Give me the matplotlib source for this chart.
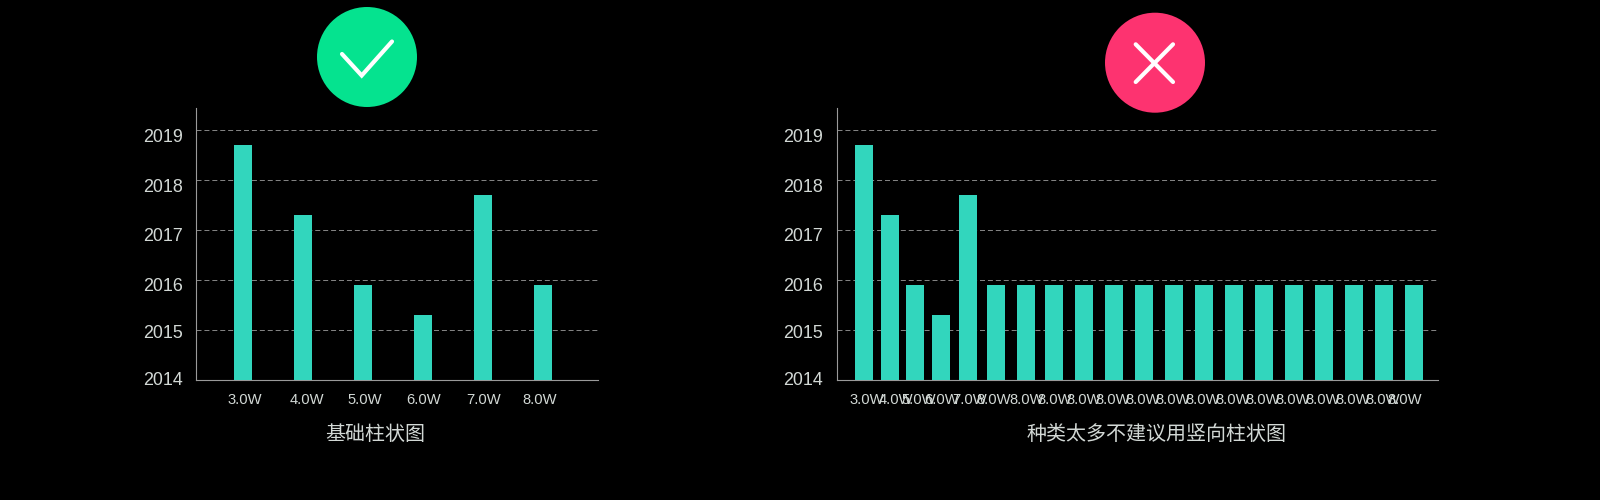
import matplotlib
matplotlib.use('Agg')
import matplotlib.pyplot as plt
from matplotlib.patches import Circle
from matplotlib.transforms import ScaledTranslation

plt.rcParams['font.family'] = ['Liberation Sans', 'Noto Sans CJK SC', 'DejaVu Sans']

W, H = 1600, 500

years = [2014, 2015, 2016, 2017, 2018, 2019]

left_labels = ['3.0W', '4.0W', '5.0W', '6.0W', '7.0W', '8.0W']
left_values = [2018.7, 2017.3, 2015.9, 2015.3, 2017.7, 2015.9]
left_title = '基础柱状图'

right_labels = ['3.0W', '4.0W', '5.0W', '6.0W', '7.0W'] + ['8.0W'] * 15
right_values = [2018.7, 2017.3, 2015.9, 2015.3, 2017.7] + [2015.9] * 15
right_title = '种类太多不建议用竖向柱状图'

# layout, in pixels from the left edge of each plot
left_bar_x = [47, 107, 167, 227, 287, 347]
left_tick_x = [49, 111, 169, 228, 288, 344]
right_bar_x = [27, 53, 78, 104, 131, 159, 189, 217, 247, 277, 307, 337, 367,
               397, 427, 457, 487, 517, 547, 577]
right_tick_x = [30, 59, 82, 105, 133, 157, 190, 218, 247, 276, 306, 336, 366,
                396, 426, 456, 486, 516, 546, 568]

# the y labels drift away from their gridlines, going up
year_shift = [1.5, -1.5, -4, -4.5, -5, -5.5]

TEAL = '#32d6bd'
AXIS = '#9a9a9a'
GRID = '#9c9c9c'
TEXT = '#d2d8d5'


def draw_panel(fig, x0, x1, bar_x, tick_x, values, labels, title, title_x):
    top, base = 108, 380.4
    ax = fig.add_axes([x0 / W, 1 - base / H, (x1 - x0) / W, (base - top) / H])
    ax.set_facecolor('black')
    ax.set_xlim(0, x1 - x0)
    ax.set_ylim(2014, 2014 + (base - top) / 50.1)
    ax.bar(bar_x, [v - 2014 for v in values], bottom=2014, width=18, color=TEAL, zorder=3)

    ax.set_yticks(years, [str(y) for y in years])
    ax.set_xticks(tick_x, labels)
    ax.tick_params(axis='both', length=0, colors=TEXT)
    ax.tick_params(axis='y', labelsize=12.9, pad=9.5)
    ax.tick_params(axis='x', labelsize=10.6, pad=8.8)
    ax.grid(axis='y', color=GRID, linewidth=0.6, dashes=(6, 3.5), zorder=1)
    ax.set_axisbelow(True)

    for label, shift in zip(ax.get_yticklabels(), year_shift):
        label.set_transform(label.get_transform() + ScaledTranslation(0, shift / 100, fig.dpi_scale_trans))

    for side in ['top', 'right']:
        ax.spines[side].set_visible(False)
    for side in ['left', 'bottom']:
        ax.spines[side].set_color(AXIS)
        ax.spines[side].set_linewidth(0.8)

    fig.text(title_x / W, 1 - 434 / H, title, color=TEXT, fontsize=14.4, ha='center', va='center')


fig = plt.figure(figsize=(W / 100, H / 100), dpi=100, facecolor='black')

draw_panel(fig, 196, 598, left_bar_x, left_tick_x, left_values, left_labels, left_title, 375.5)
draw_panel(fig, 836.5, 1438, right_bar_x, right_tick_x, right_values, right_labels, right_title, 1156.5)

# status icons above the plots
icons = fig.add_axes([0, 0, 1, 1])
icons.set_xlim(0, W)
icons.set_ylim(H, 0)
icons.axis('off')
icons.patch.set_alpha(0)
icons.add_patch(Circle((367, 57), 50, color='#05e38f', linewidth=0))
icons.add_patch(Circle((1155, 62.7), 50, color='#fd3370', linewidth=0))
icons.plot([342, 361.7, 392], [54, 75.5, 41.5], color='white', lw=3, solid_capstyle='round', solid_joinstyle='miter')
icons.plot([1135.7, 1173], [44.3, 82], color='white', lw=3, solid_capstyle='round')
icons.plot([1173, 1135.7], [44.3, 82], color='white', lw=3, solid_capstyle='round')

fig.savefig('out.png', dpi=100, facecolor='black')
